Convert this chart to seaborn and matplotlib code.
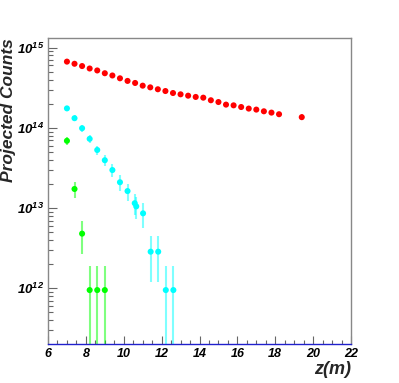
import numpy as np
import pandas as pd
import matplotlib
matplotlib.use("Agg")
import matplotlib.pyplot as plt
import matplotlib.ticker as mticker
import seaborn as sns

# Data
red_z = [7.0, 7.4, 7.8, 8.2, 8.6, 9.0, 9.4, 9.8, 10.2, 10.6, 11.0, 11.4, 11.8, 12.2,
         12.6, 13.0, 13.4, 13.8, 14.2, 14.6, 15.0, 15.4, 15.8, 16.2, 16.6, 17.0,
         17.4, 17.8, 18.2, 19.4]
red_counts = [6.7e14, 6.3e14, 5.9e14, 5.5e14, 5.2e14, 4.8e14, 4.5e14, 4.15e14, 3.85e14,
              3.63e14, 3.36e14, 3.2e14, 3.03e14, 2.88e14, 2.72e14, 2.62e14, 2.52e14,
              2.43e14, 2.38e14, 2.21e14, 2.10e14, 1.95e14, 1.91e14, 1.82e14, 1.74e14,
              1.69e14, 1.61e14, 1.55e14, 1.48e14, 1.36e14]
red_err = [2.5e13, 2.4e13, 2.4e13, 2.3e13, 2.2e13, 2.1e13, 2.1e13, 2.0e13, 1.9e13,
           1.9e13, 1.8e13, 1.7e13, 1.7e13, 1.7e13, 1.6e13, 1.6e13, 1.5e13, 1.5e13,
           1.5e13, 1.4e13, 1.4e13, 1.4e13, 1.3e13, 1.3e13, 1.3e13, 1.3e13, 1.2e13,
           1.2e13, 1.2e13, 1.1e13]

cyan_z = [7.0, 7.4, 7.8, 8.2, 8.6, 9.0, 9.4, 9.8, 10.2, 10.58, 10.66, 11.02, 11.42,
          11.82, 12.22, 12.62]
cyan_counts = [1.75e14, 1.32e14, 9.9e13, 7.3e13, 5.3e13, 3.95e13, 2.98e13, 2.1e13,
               1.63e13, 1.15e13, 1.05e13, 8.6e12, 2.86e12, 2.86e12, 9.5e11, 9.5e11]
cyan_err = [1.29e13, 1.12e13, 9.7e12, 8.3e12, 7.1e12, 6.1e12, 5.3e12, 4.5e12, 3.9e12,
            3.3e12, 3.2e12, 2.9e12, 1.65e12, 1.65e12, 9.5e11, 9.5e11]

green_z = [7.0, 7.4, 7.8, 8.2, 8.6, 9.0]
green_counts = [6.9e13, 1.73e13, 4.8e12, 9.5e11, 9.5e11, 9.5e11]
green_err = [8.1e12, 4.05e12, 2.1e12, 9.5e11, 9.5e11, 9.5e11]

series = [("red", red_z, red_counts, red_err, "#ff0000"),
          ("cyan", cyan_z, cyan_counts, cyan_err, "#00ffff"),
          ("green", green_z, green_counts, green_err, "#00ff00")]

df = pd.concat([pd.DataFrame({"z": z, "counts": c, "err": e, "set": name})
                for name, z, c, e, _ in series], ignore_index=True)
palette = {name: col for name, _, _, _, col in series}

sns.set_style("white")
plt.rcParams["font.family"] = ["Liberation Sans", "DejaVu Sans"]
plt.rcParams["mathtext.fontset"] = "custom"
plt.rcParams["mathtext.bf"] = "Liberation Sans:bold:italic"
plt.rcParams["mathtext.rm"] = "Liberation Sans:bold:italic"

fig = plt.figure(figsize=(3.99, 3.83), dpi=100)
ax = fig.add_axes([48 / 399, 1 - 344 / 383, 303 / 399, 306 / 383])

for name, z, c, e, col in series:
    ax.errorbar(z, c, yerr=e, fmt="none", ecolor=col, elinewidth=1.5,
                alpha=0.5, capsize=0, zorder=2)

sns.scatterplot(data=df, x="z", y="counts", hue="set", palette=palette,
                s=19, edgecolor="none", legend=False, ax=ax, zorder=3)

ax.set_yscale("log")
ax.set_xlim(6, 22)
ax.set_ylim(2.02e11, 1.32e15)

ax.xaxis.set_major_locator(mticker.MultipleLocator(2))
ax.xaxis.set_minor_locator(mticker.MultipleLocator(0.5))
ax.yaxis.set_major_locator(mticker.LogLocator(base=10, numticks=10))
ax.yaxis.set_minor_locator(mticker.LogLocator(base=10, subs=np.arange(2, 10), numticks=10))
ax.yaxis.set_minor_formatter(mticker.NullFormatter())
ax.yaxis.set_major_formatter(mticker.FuncFormatter(
    lambda v, p: r"$\mathbf{10^{%d}}$" % round(np.log10(v))))

ax.tick_params(axis="both", which="both", direction="in", colors="#666666",
               labelcolor="black", bottom=True, left=True, top=False, right=False)
ax.tick_params(axis="x", which="major", length=5.8, width=0.8, pad=3)
ax.tick_params(axis="x", which="minor", length=2.9, width=0.8)
ax.tick_params(axis="y", which="major", length=6.5, width=0.8, pad=3)
ax.tick_params(axis="y", which="minor", length=3.6, width=0.8)
for lab in ax.get_xticklabels():
    lab.set_fontsize(9)
    lab.set_fontweight("bold")
    lab.set_fontstyle("italic")
for lab in ax.get_yticklabels():
    lab.set_fontsize(9.5)

for side in ["left", "top", "right"]:
    ax.spines[side].set_color("#888888")
    ax.spines[side].set_linewidth(1.0)
ax.spines["bottom"].set_color("#2020cc")
ax.spines["bottom"].set_linewidth(1.0)

ax.set_xlabel("z(m)", fontsize=13, fontweight="bold", fontstyle="italic", loc="right")
ax.set_ylabel("Projected Counts", fontsize=12.5, fontweight="bold", fontstyle="italic", loc="top")
ax.xaxis.set_label_coords(1.0, -0.055)
ax.yaxis.set_label_coords(-0.105, 1.0)

fig.savefig("out.png", dpi=100)
